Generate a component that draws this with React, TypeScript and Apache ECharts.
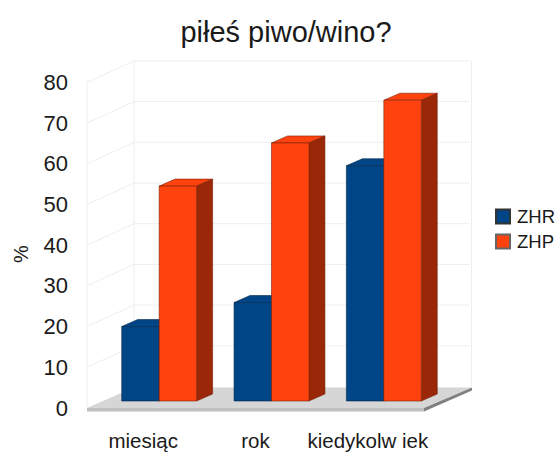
import React, { useEffect, useRef } from "react";
import * as echarts from "echarts";

const categories = ["miesiąc", "rok", "kiedykolw iek"];
const zhrValues = [18.3, 24.2, 57.8];
const zhpValues = [52.8, 63.4, 73.9];
const gridTicks = [10, 20, 30, 40, 50, 60, 70, 80];

const FONT = "Liberation Sans, Arial, sans-serif";
const TEXT = "#1a1a1a";
const WALL = "#eeeeee";
const BAR_DX = 16;
const BAR_DY = -7;
const WALL_DX = 47;
const WALL_DY = -21.5;

function wallItem(params: any, api: any) {
  const cs = params.coordSys;
  const y = api.coord([0, api.value(1)])[1];
  const l = cs.x;
  const r = cs.x + cs.width;
  return {
    type: "polyline",
    silent: true,
    shape: { points: [[l, y], [l + WALL_DX, y + WALL_DY], [r + WALL_DX - 1, y + WALL_DY]] },
    style: { stroke: WALL, lineWidth: 1, fill: "none" },
  };
}

function floorItem(params: any, api: any) {
  const cs = params.coordSys;
  const y = api.coord([0, api.value(1)])[1];
  const l = cs.x;
  const r = cs.x + cs.width;
  const top = cs.y;
  const gy = top + WALL_DY;
  return {
    type: "group",
    silent: true,
    children: [
      { type: "line", shape: { x1: l, y1: top - 1 , x2: l, y2: y }, style: { stroke: WALL, lineWidth: 1 } },
      { type: "line", shape: { x1: l + WALL_DX, y1: gy, x2: l + WALL_DX, y2: y + WALL_DY }, style: { stroke: WALL, lineWidth: 1 } },
      { type: "line", shape: { x1: r + 47.5, y1: gy, x2: r + 47.5, y2: y + WALL_DY }, style: { stroke: WALL, lineWidth: 1 } },
      {
        type: "polygon",
        shape: { points: [[l, y], [l + WALL_DX, y + WALL_DY + 1], [r + 48, y + WALL_DY + 1], [r, y]] },
        style: { fill: "#d6d6d6" },
      },
      {
        type: "polygon",
        shape: { points: [[l, y], [r, y], [r, y + 3.5], [l, y + 3.5]] },
        style: { fill: "#c0c0c0" },
      },
      {
        type: "polygon",
        shape: { points: [[r, y], [r + 48, y + WALL_DY + 1], [r + 48, y + WALL_DY + 4], [r, y + 3.5]] },
        style: { fill: "#808080" },
      },
    ],
  };
}

function barItem(side: number, front: string, top: string, right: string, edge: string) {
  return (params: any, api: any) => {
    const cat = api.value(0);
    const [cx, vy] = api.coord([cat, api.value(1)]);
    const [, zy] = api.coord([cat, 0]);
    const w = api.size([1, 0])[0] / 3;
    const x0 = cx + BAR_DX + (side < 0 ? -w : 0);
    const x1 = x0 + w;
    const yt = vy + BAR_DY;
    const yb = zy + BAR_DY;
    const style = (fill: string) => ({ fill, stroke: edge, lineWidth: 0.6 });
    return {
      type: "group",
      silent: true,
      children: [
        {
          type: "polygon",
          shape: { points: [[x0, yt], [x1, yt], [x1 + BAR_DX, yt + BAR_DY], [x0 + BAR_DX, yt + BAR_DY]] },
          style: style(top),
        },
        {
          type: "polygon",
          shape: { points: [[x1, yt], [x1 + BAR_DX, yt + BAR_DY], [x1 + BAR_DX, yb + BAR_DY], [x1, yb]] },
          style: style(right),
        },
        {
          type: "polygon",
          shape: { points: [[x0, yt], [x1, yt], [x1, yb], [x0, yb]] },
          style: style(front),
        },
      ],
    };
  };
}

export default function App() {
  const ref = useRef<HTMLDivElement>(null);
  useEffect(() => {
    const chart = echarts.init(ref.current!, undefined, { renderer: "svg" });
    chart.setOption({
      animation: false,
      backgroundColor: "#ffffff",
      title: {
        text: "piłeś piwo/wino?",
        left: 281,
        textAlign: "center",
        top: 12,
        textStyle: { fontFamily: FONT, fontSize: 29, fontWeight: "normal", color: TEXT },
      },
      legend: {
        orient: "vertical",
        left: 495,
        top: 207,
        itemWidth: 14,
        itemHeight: 14,
        itemGap: 6,
        padding: 0,
        icon: "rect",
        data: ["ZHR", "ZHP"],
        textStyle: { fontFamily: FONT, fontSize: 18.5, color: TEXT, padding: [0, 0, 0, 2] },
      },
      grid: { left: 87, right: 136, top: 82.4, bottom: 45 },
      xAxis: {
        type: "category",
        data: categories,
        axisLine: { show: false },
        axisTick: { show: false },
        axisLabel: { fontFamily: FONT, fontSize: 20.5, color: TEXT, margin: 22, interval: 0 },
      },
      yAxis: {
        type: "value",
        min: 0,
        max: 80,
        interval: 10,
        name: "%",
        nameLocation: "middle",
        nameGap: 56,
        nameTextStyle: { fontFamily: FONT, fontSize: 20, color: TEXT, padding: [0, 18, 0, 0] },
        axisLine: { show: false },
        axisTick: { show: false },
        splitLine: { show: false },
        axisLabel: { fontFamily: FONT, fontSize: 22, color: TEXT, margin: 19, padding: [2, 0, 0, 0] },
      },
      series: [
        { type: "custom", name: "wall", renderItem: wallItem, data: gridTicks.map((v) => [0, v]), z: 1, silent: true },
        { type: "custom", name: "floor", renderItem: floorItem, data: [[0, 0]], z: 2, silent: true },
        {
          type: "custom",
          name: "ZHR",
          renderItem: barItem(-1, "#004586", "#004586", "#002b54", "#00264a"),
          data: zhrValues.map((v, i) => [i, v]),
          itemStyle: { color: "#004586", borderColor: "#333333", borderWidth: 0.7 },
          z: 3,
        },
        {
          type: "custom",
          name: "ZHP",
          renderItem: barItem(1, "#ff420e", "#ff420e", "#992708", "#7a2408"),
          data: zhpValues.map((v, i) => [i, v]),
          itemStyle: { color: "#ff420e", borderColor: "#666666", borderWidth: 0.7 },
          z: 4,
        },
      ],
    });
    return () => chart.dispose();
  }, []);
  return <div ref={ref} style={{ position: "absolute", left: 0, top: 0, width: 560, height: 453 }} />;
}
